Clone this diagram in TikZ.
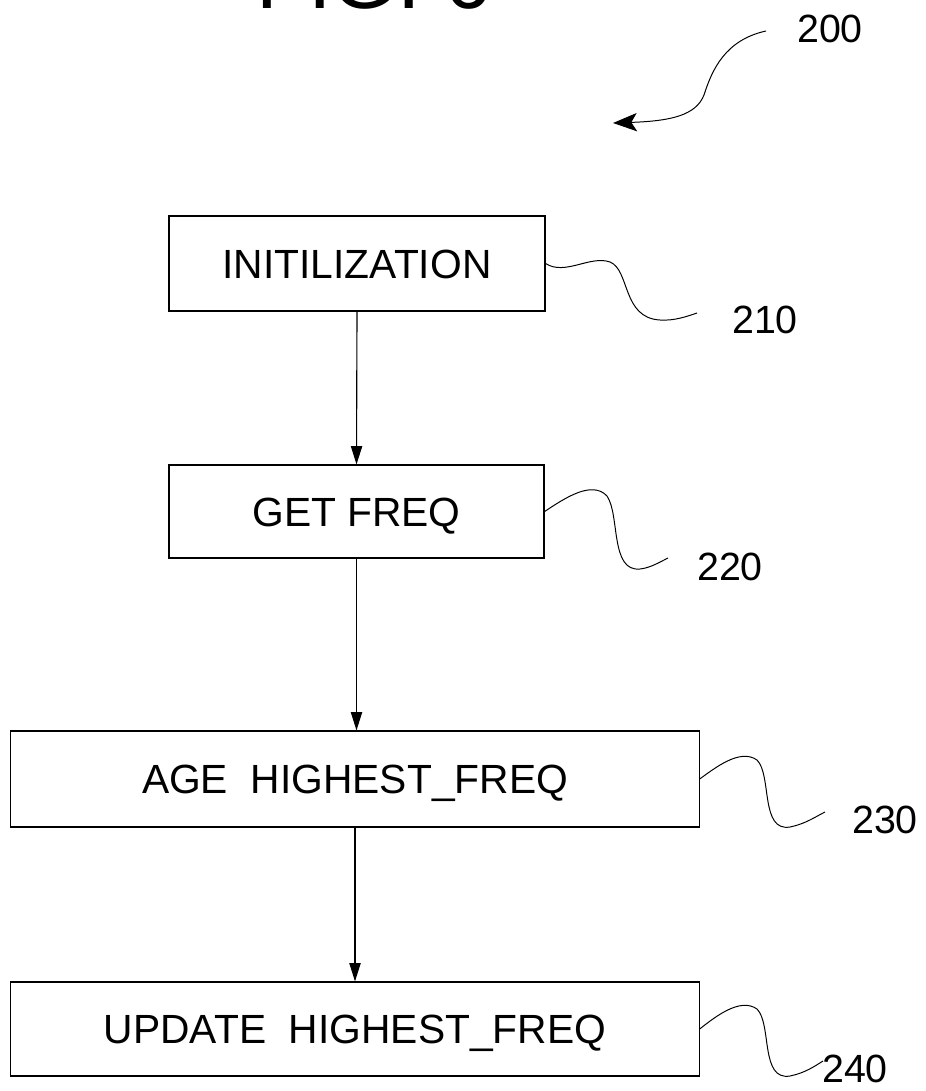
\documentclass[tikz,border=0pt]{standalone}
\usepackage{fontspec}
\setmainfont{Liberation Sans}
\usetikzlibrary{arrows.meta}

\begin{document}
\begin{tikzpicture}[x=0.025cm,y=-0.025cm]
        \tikzstyle{every path}=[line width=0.8pt]

        \tikzstyle{stepbox}=[draw,inner sep=0pt,text height=21pt,text depth=0pt,font=\fontsize{29}{34}\selectfont]
        \tikzstyle{refnum}=[inner sep=0pt,font=\fontsize{28}{32}\selectfont]
        \tikzstyle{flow}=[-{Triangle[length=13pt,width=8pt]}]
        \tikzstyle{leader}=[line width=0.7pt]

        \useasboundingbox (0,0) rectangle (926,1091);

        % title, cut off by the top edge
        \node[anchor=base west,inner sep=0pt,font=\fontsize{60}{60}\selectfont] (figtitle) at (256,9) {FIG. 6};

        \node[stepbox,minimum width=9.4cm,minimum height=2.375cm] (init) at (357,263.5) {INITILIZATION};
        \node[stepbox,minimum width=9.375cm,minimum height=2.325cm] (getfreq) at (356.5,511.5) {GET FREQ};
        \node[stepbox,minimum width=17.2cm,minimum height=2.4cm] (age) at (355,779) {AGE\ \ HIGHEST\_FREQ};
        \node[stepbox,minimum width=17.2cm,minimum height=2.35cm] (update) at (355,1029) {UPDATE\ \ HIGHEST\_FREQ};

        \draw[flow] (init.south) -- (getfreq.north);
        \draw[flow] (getfreq.south) -- (getfreq.south |- age.north);
        \draw[flow] (age.south) -- (update.north);

        %reference numerals
        \node[refnum] (n200) at (830,29) {200};
        \node[refnum] (n210) at (765,320) {210};
        \node[refnum] (n220) at (730,567) {220};
        \node[refnum] (n230) at (885,820) {230};
        \node[refnum] (n240) at (855,1069) {240};

        \coordinate (e200) at (766,31);
        \coordinate (e210) at (697,313);
        \coordinate (e220) at (668,558);
        \coordinate (e230) at (825,812);
        \coordinate (e240) at (823,1061);

        \draw[leader,-{Stealth[length=17pt,width=13pt,inset=4pt]}] (e200) .. controls (725,40) and (712,70) .. (704,95)
            .. controls (696,115) and (672,121) .. (613,123);

        \draw[leader] (init.east) .. controls (565,276) and (590,255) .. (610,262)
            .. controls (630,270) and (622,318) .. (660,320) .. controls (675,321) and (688,316) .. (e210);
        \draw[leader] (getfreq.east) .. controls (565,498) and (592,480) .. (607,496)
            .. controls (620,515) and (610,572) .. (640,569) .. controls (650,568) and (660,562) .. (e220);
        \draw[leader] (age.east) .. controls (715,768) and (740,748) .. (757,760)
            .. controls (772,775) and (760,832) .. (790,827) .. controls (805,824) and (815,817) .. (e230);
        \draw[leader] (update.east) .. controls (715,1017) and (740,997) .. (757,1009)
            .. controls (772,1024) and (760,1081) .. (790,1076) .. controls (805,1073) and (815,1066) .. (e240);
\end{tikzpicture}
\end{document}
